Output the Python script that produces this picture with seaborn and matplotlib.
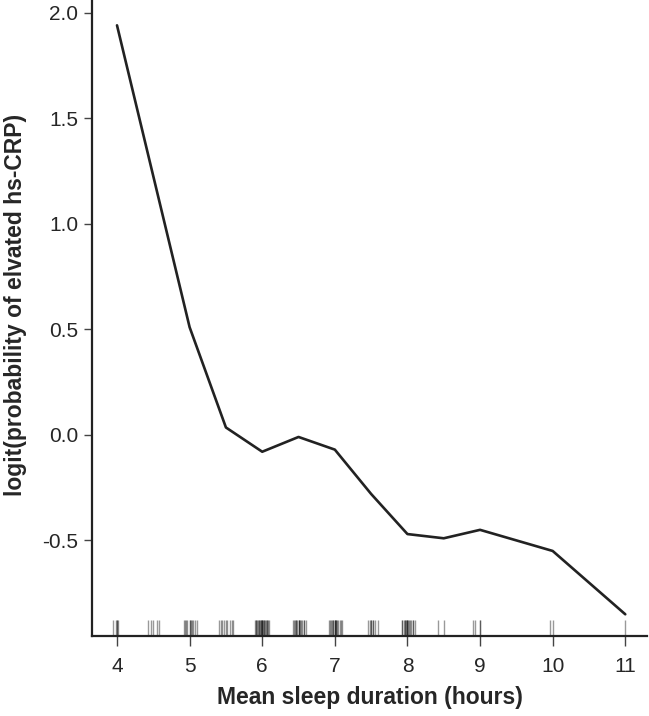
import matplotlib
matplotlib.use("Agg")
import matplotlib.pyplot as plt
import seaborn as sns
import pandas as pd

# Curve data
sleep_hours = [4.0, 5.0, 5.5, 6.0, 6.5, 7.0, 7.5, 8.0, 8.5, 9.0, 10.0, 11.0]
logit_values = [1.94, 0.51, 0.035, -0.08, -0.01, -0.07, -0.28, -0.47, -0.49, -0.45, -0.55, -0.85]

# Observed sleep durations (rug)
rug_values = [3.95, 3.98, 4.0, 4.0, 4.02,
              4.42, 4.47, 4.5, 4.55, 4.58,
              4.92, 4.94, 4.95, 4.97, 5.0, 5.0, 5.02, 5.03, 5.05, 5.08, 5.1,
              5.4, 5.43, 5.45, 5.47, 5.5, 5.52, 5.55, 5.58, 5.6,
              5.9, 5.91, 5.92, 5.93, 5.94, 5.95, 5.96, 5.97, 5.98, 5.99, 6.0, 6.0, 6.0,
              6.01, 6.02, 6.03, 6.04, 6.05, 6.06, 6.07, 6.08, 6.1,
              6.42, 6.44, 6.45, 6.46, 6.47, 6.48, 6.5, 6.5, 6.5, 6.52, 6.53, 6.55, 6.57, 6.58, 6.6,
              6.92, 6.93, 6.95, 6.96, 6.97, 6.98, 7.0, 7.0, 7.0, 7.01, 7.02, 7.03, 7.05, 7.07, 7.08, 7.1,
              7.45, 7.48, 7.5, 7.5, 7.52, 7.53, 7.55, 7.6,
              7.92, 7.93, 7.95, 7.96, 7.97, 7.98, 8.0, 8.0, 8.0, 8.01, 8.02, 8.04, 8.05, 8.07, 8.08, 8.1,
              8.42, 8.5, 8.9, 8.93, 9.0, 9.0, 9.97, 10.0, 11.0]

xtick_vals = [4, 5, 6, 7, 8, 9, 10, 11]
ytick_vals = [-0.5, 0.0, 0.5, 1.0, 1.5, 2.0]

sns.set_style("ticks")
plt.rcParams['font.family'] = ['Liberation Sans', 'DejaVu Sans']

fig = plt.figure(figsize=(6.49, 7.16), dpi=100)
ax = fig.add_axes([0.1418, 0.1117, 0.8552, 0.8883])

df = pd.DataFrame({"x": sleep_hours, "y": logit_values})
sns.lineplot(data=df, x="x", y="y", ax=ax, color="#222222", linewidth=1.9)
sns.rugplot(x=rug_values, ax=ax, height=0.025, color="black", alpha=0.4, linewidth=1.0)

ax.set_xlim(3.656, 11.30)
ax.set_ylim(-0.953, 2.06)
ax.set_xticks(xtick_vals)
ax.set_xticklabels([str(v) for v in xtick_vals])
ax.set_yticks(ytick_vals)
ax.set_yticklabels([f"{v:.1f}" for v in ytick_vals])

for s in ["top", "right"]:
    ax.spines[s].set_visible(False)
for s in ["left", "bottom"]:
    ax.spines[s].set_linewidth(1.6)
    ax.spines[s].set_color("#222222")

ax.tick_params(axis="x", length=7, width=1.0, color="#444444", labelsize=15, pad=8)
ax.tick_params(axis="y", length=6, width=1.0, color="#444444", labelsize=15, pad=4)

ax.set_xlabel("Mean sleep duration (hours)", fontsize=16.5, fontweight="bold", labelpad=7)
ax.set_ylabel("logit(probability of elvated hs-CRP)", fontsize=16.5, fontweight="bold", labelpad=11)
ax.yaxis.label.set_y(0.52)

fig.savefig("out.png", dpi=100)
